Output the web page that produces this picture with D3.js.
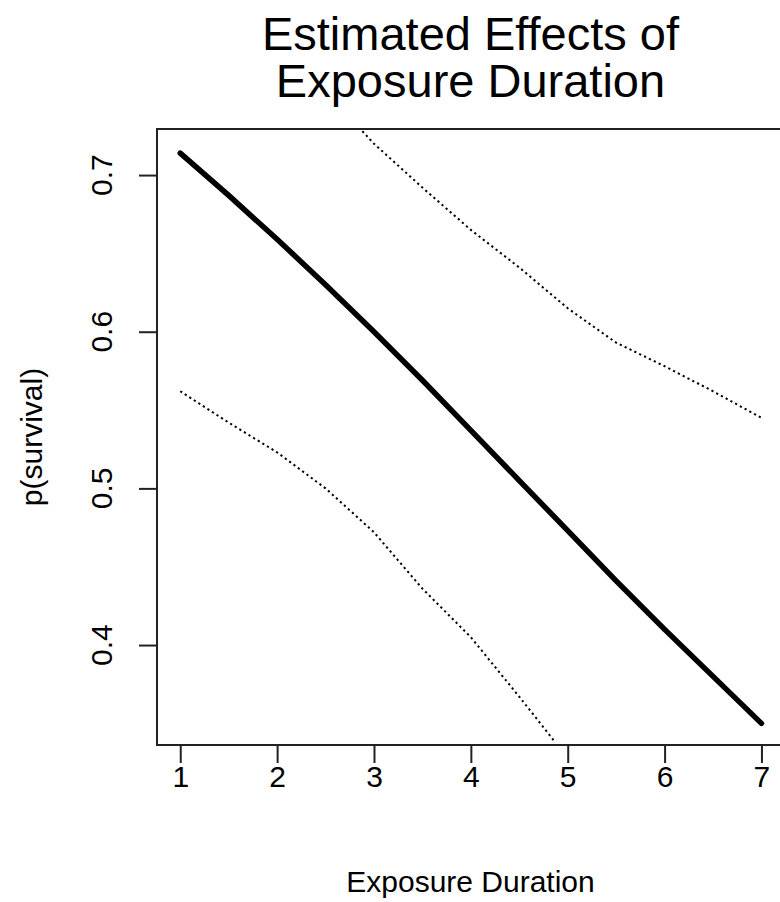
<!DOCTYPE html>
<html lang="en">
<head>
<meta charset="utf-8">
<title>Estimated Effects of Exposure Duration</title>
<script src="https://d3js.org/d3.v7.min.js"></script>
<style>
body{margin:0;background:#fff;font-family:"Liberation Sans",Arial,sans-serif;}
</style>
</head>
<body>
<div id="chart"></div>
<script>
// values
var duration = [1, 1.5, 2, 2.5, 3, 3.5, 4, 4.5, 5, 5.5, 6, 6.5, 7]
var fit = [0.714, 0.687, 0.659, 0.630, 0.600, 0.569, 0.537, 0.505, 0.473, 0.441, 0.410, 0.380, 0.350]

var upperX = [2.88, 3, 3.5, 4, 4.5, 5, 5.5, 6, 6.5, 7]
var upper = [0.728, 0.720, 0.692, 0.665, 0.641, 0.615, 0.593, 0.578, 0.562, 0.545]

var lowerX = [1, 1.5, 2, 2.5, 3, 3.5, 4, 4.5, 4.87]
var lower = [0.562, 0.542, 0.523, 0.500, 0.472, 0.436, 0.405, 0.367, 0.338]

var xTicks = [1, 2, 3, 4, 5, 6, 7]
var yTicks = [0.4, 0.5, 0.6, 0.7]

var w = 780
var h = 902
// plot region (R style box); right side runs past the window edge
var boxLeft = 157, boxTop = 129, boxRight = 784.7, boxBottom = 745

var xScale = d3.scaleLinear().domain([0.76, 7.24]).range([boxLeft, boxRight])
var yScale = d3.scaleLinear().domain([0.3362, 0.7294]).range([boxBottom, boxTop])

var svg = d3.select("#chart")
    .append("svg")
    .attr("width", w)
    .attr("height", h)
    .style("font-family", "Liberation Sans, Arial, sans-serif")

// title
svg.append("text")
    .attr("x", 470.5).attr("y", 50)
    .attr("text-anchor", "middle")
    .attr("font-size", "47px")
    .text("Estimated Effects of")
svg.append("text")
    .attr("x", 470.5).attr("y", 97)
    .attr("text-anchor", "middle")
    .attr("font-size", "47px")
    .text("Exposure Duration")

// box
svg.append("rect")
    .attr("x", boxLeft).attr("y", boxTop)
    .attr("width", boxRight - boxLeft).attr("height", boxBottom - boxTop)
    .attr("fill", "none")
    .attr("stroke", "#222")
    .attr("stroke-width", 2)

// x axis
var xAxis = d3.axisBottom(xScale).tickValues(xTicks).tickSize(18).tickPadding(3).tickFormat(d3.format("d"))
var gx = svg.append("g")
    .attr("transform", "translate(0," + boxBottom + ")")
    .call(xAxis)
gx.attr("font-size", null).attr("font-family", null)
gx.select(".domain").remove()
gx.selectAll("line").attr("stroke", "#222").attr("stroke-width", 2)
gx.selectAll("text")
    .attr("font-size", "30px")
    .attr("fill", "#000")

// y axis: ticks from the library, labels rotated like R's las=0
var yAxis = d3.axisLeft(yScale).tickValues(yTicks).tickSize(18).tickFormat("")
var gy = svg.append("g")
    .attr("transform", "translate(" + boxLeft + ",0)")
    .call(yAxis)
gy.select(".domain").remove()
gy.selectAll("line").attr("stroke", "#222").attr("stroke-width", 2)

svg.selectAll(".ylab")
    .data(yTicks)
    .enter()
    .append("text")
    .attr("class", "ylab")
    .attr("text-anchor", "middle")
    .attr("font-size", "30px")
    .attr("transform", function(d){
        return "translate(112," + yScale(d) + ") rotate(-90)"
    })
    .text(function(d){ return d3.format(".1f")(d) })

// axis titles
svg.append("text")
    .attr("x", 470.5).attr("y", 891.7)
    .attr("text-anchor", "middle")
    .attr("font-size", "30px")
    .text("Exposure Duration")
svg.append("text")
    .attr("text-anchor", "middle")
    .attr("font-size", "30px")
    .attr("transform", "translate(42,437) rotate(-90)")
    .text("p(survival)")

// lines
var line = d3.line()
    .x(function(d){ return xScale(d[0]) })
    .y(function(d){ return yScale(d[1]) })

svg.append("path")
    .datum(d3.zip(upperX, upper))
    .attr("d", line)
    .attr("fill", "none")
    .attr("stroke", "#000")
    .attr("stroke-width", 2)
    .attr("stroke-dasharray", "2.2 3.2")

svg.append("path")
    .datum(d3.zip(lowerX, lower))
    .attr("d", line)
    .attr("fill", "none")
    .attr("stroke", "#000")
    .attr("stroke-width", 2)
    .attr("stroke-dasharray", "2.2 3.2")

svg.append("path")
    .datum(d3.zip(duration, fit))
    .attr("d", line)
    .attr("fill", "none")
    .attr("stroke", "#000")
    .attr("stroke-width", 5.5)
    .attr("stroke-linejoin", "round")
    .attr("stroke-linecap", "round")
</script>
</body>
</html>
